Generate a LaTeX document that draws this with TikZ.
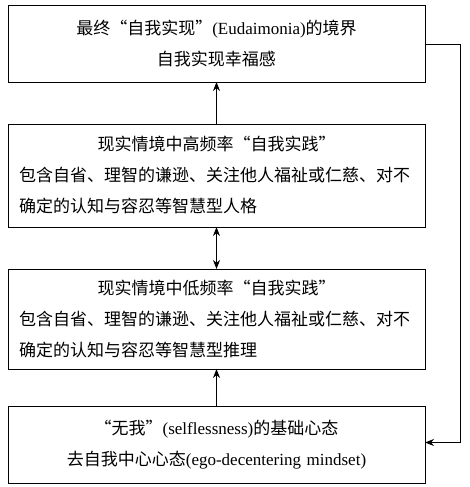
\documentclass[tikz,border=0pt]{standalone}
\usepackage{fontspec}
\setmainfont{Noto Sans CJK SC}
\newfontfamily\lat{Liberation Serif}
\usetikzlibrary{arrows.meta,chains,positioning}
\newlength\boxtw
\setlength\boxtw{395pt}
\tikzset{
    flow edge/.style = {
        draw,
        line width=0.9pt,
        -{Stealth[length=9pt, width=7pt]},
        },
}

\begin{document}
\begin{tikzpicture}[
            x=1pt, y=1pt,
            start chain = going below,
            node distance = 42pt,
            FlowBlock/.style={draw, line width=1pt, text width=\boxtw, inner xsep=11pt, inner ysep=2pt,
                font=\fontsize{17pt}{31pt}\selectfont, outer sep=0pt, on chain},
            ]
            \useasboundingbox (0,0) rectangle (470,-487);
            \coordinate (start) at (216.5,-6);

            \node [FlowBlock, align=center, minimum height=76pt, below=0pt of start] (goal)
                {最终“自我实现”{\lat(Eudaimonia)}的境界\\自我实现幸福感};
            \node [FlowBlock, align=left, minimum height=103pt] (high)
                {\makebox[\boxtw]{现实情境中高频率“自我实践”}\\
                 包含自省、理智的谦逊、关注他人福祉或仁慈、对不\\
                 确定的认知与容忍等智慧型人格};
            \node [FlowBlock, align=left, minimum height=100pt] (low)
                {\makebox[\boxtw]{现实情境中低频率“自我实践”}\\
                 包含自省、理智的谦逊、关注他人福祉或仁慈、对不\\
                 确定的认知与容忍等智慧型推理};
            \node [FlowBlock, align=center, minimum height=77pt, yshift=5pt] (base)
                {“无我”{\lat(selflessness)}的基础心态\\去自我中心心态{\lat(ego-decentering mindset)}};

            % vertical links
            \draw [flow edge] (high) -- (goal);
            \draw [flow edge, {Stealth[length=9pt, width=7pt]}-{Stealth[length=9pt, width=7pt]}] (high) -- (low);
            \draw [flow edge] (base) -- (low);

            % feedback on the right
            \draw [flow edge] (goal.east) -- ++(35pt,0) |- ([yshift=2pt]base.east);

        \end{tikzpicture}
\end{document}
